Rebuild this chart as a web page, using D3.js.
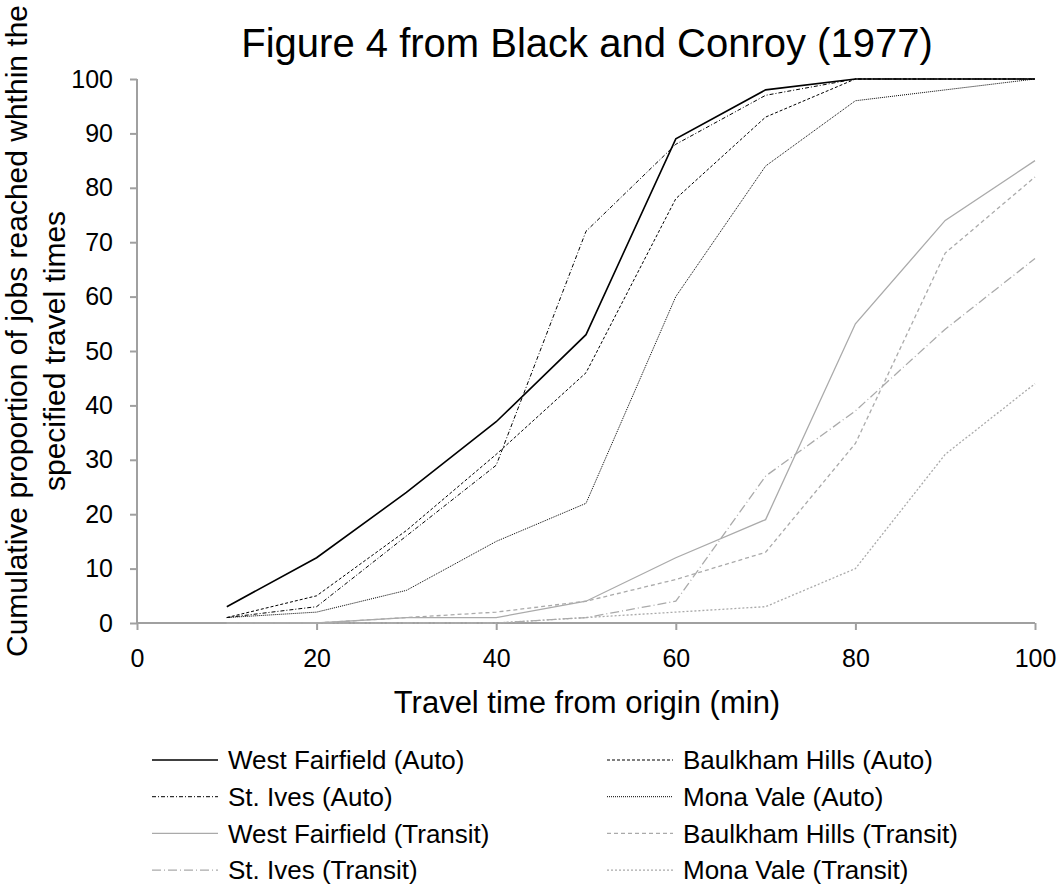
<!DOCTYPE html>
<html>
<head>
<meta charset="utf-8">
<script src="https://cdn.jsdelivr.net/npm/d3@7"></script>
<style>
  body { margin: 0; background: #fff; }
  svg { display: block; font-family: "Liberation Sans", Arial, sans-serif; }
</style>
</head>
<body>
<div id="app"></div>
<script>
// travel time (min) along the x axis
const travelTimes = [10, 20, 30, 40, 50, 60, 70, 80, 90, 100];

// cumulative % of jobs reached
const westFairfieldAuto = [3, 12, 24, 37, 53, 89, 98, 100, 100, 100];
const baulkhamHillsAuto = [1, 5, 17, 31, 46, 78, 93, 100, 100, 100];
const stIvesAuto = [1, 3, 16, 29, 72, 88, 97, 100, 100, 100];
const monaValeAuto = [1, 2, 6, 15, 22, 60, 84, 96, 98, 100];
const westFairfieldTransit = [0, 0, 1, 1, 4, 12, 19, 55, 74, 85];
const baulkhamHillsTransit = [0, 0, 1, 2, 4, 8, 13, 33, 68, 82];
const stIvesTransit = [0, 0, 0, 0, 1, 4, 27, 39, 54, 67];
const monaValeTransit = [0, 0, 0, 0, 1, 2, 3, 10, 31, 44];

const seriesNames = [
  'West Fairfield (Auto)', 'Baulkham Hills (Auto)',
  'St. Ives (Auto)', 'Mona Vale (Auto)',
  'West Fairfield (Transit)', 'Baulkham Hills (Transit)',
  'St. Ives (Transit)', 'Mona Vale (Transit)',
];
const seriesValues = [
  westFairfieldAuto, baulkhamHillsAuto, stIvesAuto, monaValeAuto,
  westFairfieldTransit, baulkhamHillsTransit, stIvesTransit, monaValeTransit,
];
const xTicks = [0, 20, 40, 60, 80, 100];
const yTicks = [0, 10, 20, 30, 40, 50, 60, 70, 80, 90, 100];

// line styles, same order as the series
const black = '#000';
const grey = '#aaaaaa';
const lineStyles = [
  { stroke: black, width: 1.6, dash: null },
  { stroke: black, width: 1, dash: '3,2' },
  { stroke: black, width: 1, dash: '4,2,1,2' },
  { stroke: black, width: 1, dash: '1,1' },
  { stroke: grey, width: 1.3, dash: null },
  { stroke: grey, width: 1.3, dash: '4,3' },
  { stroke: grey, width: 1.3, dash: '9,3,1,3' },
  { stroke: grey, width: 1.3, dash: '2,2' },
];

const width = 1064;
const height = 891;
const margin = { top: 79, right: 29, bottom: 268, left: 137 };
const axisColor = '#a0a0a0';

const svg = d3.select('#app')
  .append('svg')
  .attr('width', width)
  .attr('height', height);

const xScale = d3.scaleLinear()
  .domain([0, 100])
  .range([margin.left, width - margin.right]);

const yScale = d3.scaleLinear()
  .domain([0, 100])
  .range([height - margin.bottom, margin.top]);

// title
svg.append('text')
  .attr('x', 587)
  .attr('y', 57)
  .attr('text-anchor', 'middle')
  .attr('font-size', 40)
  .text('Figure 4 from Black and Conroy (1977)');

// y axis
const yAxis = svg.append('g')
  .attr('transform', `translate(${margin.left},0)`)
  .call(d3.axisLeft(yScale).tickValues(yTicks).tickSize(7).tickPadding(17));

// x axis
const xAxis = svg.append('g')
  .attr('transform', `translate(0,${yScale(0)})`)
  .call(d3.axisBottom(xScale).tickValues(xTicks).tickSize(7).tickPadding(19));

[yAxis, xAxis].forEach((ax) => {
  ax.select('.domain').attr('stroke', axisColor).attr('stroke-width', 2);
  ax.selectAll('.tick line').attr('stroke', axisColor).attr('stroke-width', 2);
  ax.selectAll('.tick text')
    .attr('fill', '#000')
    .attr('font-size', 25)
    .attr('font-family', '"Liberation Sans", Arial, sans-serif');
});
xAxis.select('.domain').attr('d', `M${xScale(0)},0H${xScale(100)}`);
yAxis.select('.domain').attr('d', `M0,${yScale(100)}V${yScale(0)}`);

// axis titles
svg.append('text')
  .attr('x', 587)
  .attr('y', 713)
  .attr('text-anchor', 'middle')
  .attr('font-size', 31)
  .text('Travel time from origin (min)');

const yTitle = svg.append('text')
  .attr('transform', `translate(27,${(yScale(0) + yScale(100)) / 2 - 20}) rotate(-90)`)
  .attr('text-anchor', 'middle')
  .attr('font-size', 30);
yTitle.append('tspan')
  .attr('x', 0)
  .attr('dy', 0)
  .text('Cumulative proportion of jobs reached whthin the');
yTitle.append('tspan')
  .attr('x', -20)
  .attr('dy', 38)
  .text('specified travel times');

// lines
const line = d3.line()
  .x((d, i) => xScale(travelTimes[i]))
  .y(d => yScale(d));

const series = seriesNames.map((name, i) => ({
  name,
  values: seriesValues[i],
  style: lineStyles[i],
}));

// draw transit first so auto lines sit on top
svg.append('g')
  .selectAll('path')
  .data(series.slice().reverse())
  .enter()
  .append('path')
  .attr('d', d => line(d.values))
  .attr('fill', 'none')
  .attr('stroke', d => d.style.stroke)
  .attr('stroke-width', d => d.style.width)
  .attr('stroke-dasharray', d => d.style.dash);

// legend, two columns filled row by row
const legendCols = [152, 607];
const legendRowY = 760;
const legendRowStep = 36.7;
const legendLineLength = 66;

const legend = svg.append('g')
  .selectAll('g')
  .data(series)
  .enter()
  .append('g')
  .attr('transform', (d, i) => `translate(${legendCols[i % 2]},${legendRowY + Math.floor(i / 2) * legendRowStep})`);

legend.append('line')
  .attr('x1', 0)
  .attr('x2', legendLineLength)
  .attr('stroke', d => d.style.stroke)
  .attr('stroke-width', d => d.style.width)
  .attr('stroke-dasharray', d => d.style.dash);

legend.append('text')
  .attr('x', legendLineLength + 10)
  .attr('dy', '0.35em')
  .attr('font-size', 26)
  .text(d => d.name);
</script>
</body>
</html>
